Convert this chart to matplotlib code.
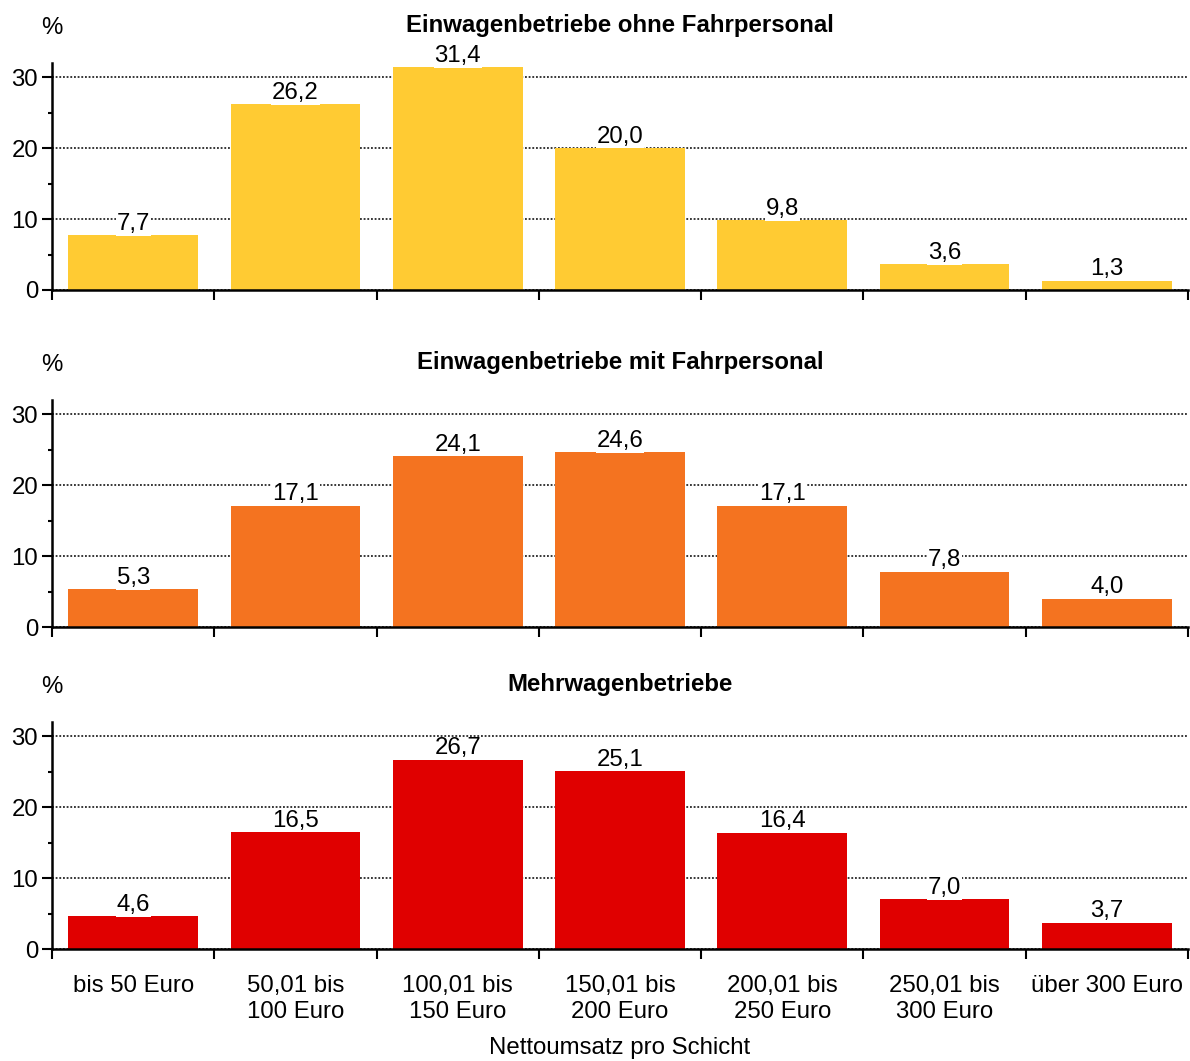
import matplotlib.pyplot as plt
from matplotlib.ticker import MultipleLocator

plt.rcParams['font.family'] = ['Liberation Sans', 'DejaVu Sans']

categories = ['bis 50 Euro', '50,01 bis\n100 Euro', '100,01 bis\n150 Euro',
              '150,01 bis\n200 Euro', '200,01 bis\n250 Euro', '250,01 bis\n300 Euro',
              'über 300 Euro']
ohne_fahrpersonal = [7.7, 26.2, 31.4, 20.0, 9.8, 3.6, 1.3]
mit_fahrpersonal = [5.3, 17.1, 24.1, 24.6, 17.1, 7.8, 4.0]
mehrwagen = [4.6, 16.5, 26.7, 25.1, 16.4, 7.0, 3.7]

titles = ['Einwagenbetriebe ohne Fahrpersonal',
          'Einwagenbetriebe mit Fahrpersonal',
          'Mehrwagenbetriebe']
series = [ohne_fahrpersonal, mit_fahrpersonal, mehrwagen]
colors = ['#FFCB33', '#F47320', '#E00000']

fs = 17.3
fig = plt.figure(figsize=(11.9, 10.61), dpi=100)
bottoms = [1 - 290 / 1061, 1 - 627 / 1061, 1 - 949 / 1061]
left, width, height = 52 / 1190, 1136 / 1190, 227 / 1061

for k in range(3):
    ax = fig.add_axes([left, bottoms[k], width, height])
    vals = series[k]
    x = range(len(vals))
    ax.bar(x, vals, width=0.8, color=colors[k], zorder=2)
    for i, v in enumerate(vals):
        ax.text(i, v + 0.05, f'{v:.1f}'.replace('.', ','), ha='center', va='bottom',
                fontsize=fs, zorder=4,
                bbox=dict(fc='white', ec='none', pad=0.5))
    ax.set_xlim(-0.5, len(vals) - 0.5)
    ax.set_ylim(0, 32)
    ax.yaxis.set_major_locator(MultipleLocator(10))
    ax.yaxis.set_minor_locator(MultipleLocator(5))
    ax.yaxis.grid(True, which='major', color='black', linestyle=(0, (1.2, 1.2)),
                  linewidth=1.1, zorder=1)
    ax.set_axisbelow(True)
    for s in ['top', 'right']:
        ax.spines[s].set_visible(False)
    for s in ['left', 'bottom']:
        ax.spines[s].set_linewidth(1.8)
        ax.spines[s].set_zorder(3)
    ax.tick_params(axis='y', which='major', length=7, width=1.5, labelsize=fs, pad=3)
    ax.tick_params(axis='y', which='minor', length=3, width=1.5)
    ax.set_xticks([i - 0.5 for i in range(len(vals) + 1)])
    ax.set_xticklabels([])
    ax.tick_params(axis='x', which='major', length=7, width=1.5)
    if k == 2:
        ax.set_xticks(list(x), minor=True)
        ax.set_xticklabels(categories, minor=True, fontsize=fs)
        ax.tick_params(axis='x', which='minor', length=0, pad=19)
        ax.set_xlabel('Nettoumsatz pro Schicht', fontsize=fs, labelpad=10)
    ax.text(0.5, 1.165, titles[k], transform=ax.transAxes, ha='center',
            va='center', fontsize=fs, fontweight='bold')
    ax.text(0.0, 1.155, '%', transform=ax.transAxes, ha='center',
            va='center', fontsize=fs)

fig.savefig('out.png', dpi=100)
